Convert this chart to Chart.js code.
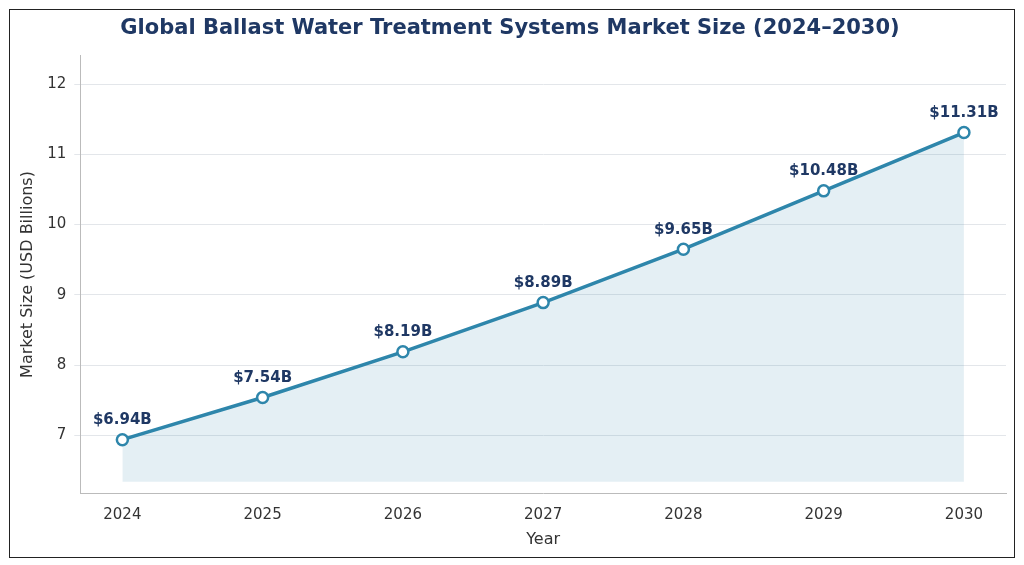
<!DOCTYPE html>
<html><head><meta charset="utf-8">
<script src="https://cdn.jsdelivr.net/npm/chart.js@4"></script>
<style>
html,body{margin:0;padding:0;background:#fff;}
#frame{position:absolute;left:9px;top:9px;width:1006px;height:549px;border:1px solid #222;box-sizing:border-box;}
#wrap{position:absolute;left:0;top:0;width:1024px;height:565px;}
</style></head><body>
<div id="frame"></div>
<div id="wrap"><canvas id="c" width="1024" height="565"></canvas></div>
<script>
const years = ["2024","2025","2026","2027","2028","2029","2030"];
const values = [6.94, 7.54, 8.19, 8.89, 9.65, 10.48, 11.31];
const valueLabels = ["$6.94B","$7.54B","$8.19B","$8.89B","$9.65B","$10.48B","$11.31B"];
const navy = "#1f3864", lineC = "#2e86ab";
const FF = "'DejaVu Sans', sans-serif";
const labelPlugin = {
  id:'vl',
  afterDatasetsDraw(chart){
    const ctx=chart.ctx, meta=chart.getDatasetMeta(0);
    ctx.save();ctx.font="bold 15px 'DejaVu Sans'";ctx.fillStyle=navy;ctx.textAlign="center";ctx.textBaseline="bottom";
    meta.data.forEach((p,i)=>ctx.fillText(valueLabels[i],p.x,p.y-12));
    ctx.restore();
  }
};
new Chart(document.getElementById('c'),{
  type:'line',
  data:{datasets:[{
    data:values.map((v,i)=>({x:i,y:v})),
    borderColor:lineC,borderWidth:3.5,
    pointRadius:5.5,pointBackgroundColor:"#fff",pointBorderColor:lineC,pointBorderWidth:2.5,
    fill:{value:6.34},backgroundColor:"rgba(46,134,171,0.13)",tension:0
  }]},
  options:{
    responsive:false,animation:false,
    layout:{padding:{top:14,right:18,left:14,bottom:12}},
    plugins:{legend:{display:false},tooltip:{enabled:false},
      title:{display:true,text:"Global Ballast Water Treatment Systems Market Size (2024–2030)",
        color:navy,font:{family:FF,size:21,weight:"bold"},padding:{top:2,bottom:14}}},
    scales:{
      x:{type:'linear',min:-0.3,max:6.3,
        afterBuildTicks(a){a.ticks=years.map((y,i)=>({value:i}));},
        ticks:{callback:(v)=>years[v],color:"#333",font:{family:FF,size:15},padding:6},
        grid:{display:false,drawTicks:true,tickLength:6,color:"#bbb"},
        border:{color:"#bbb"},
        title:{display:true,text:"Year",color:"#333",font:{family:FF,size:16},padding:{top:0}}},
      y:{min:6.17,max:12.41,
        afterBuildTicks(a){a.ticks=[7,8,9,10,11,12].map(v=>({value:v}));},
        ticks:{color:"#333",font:{family:FF,size:15},padding:8},
        grid:{color:"#e3e6ea",tickLength:6},
        border:{color:"#bbb"},
        title:{display:true,text:"Market Size (USD Billions)",color:"#333",font:{family:FF,size:16},padding:{bottom:2}}}
    }
  },
  plugins:[labelPlugin]
});
</script></body></html>
